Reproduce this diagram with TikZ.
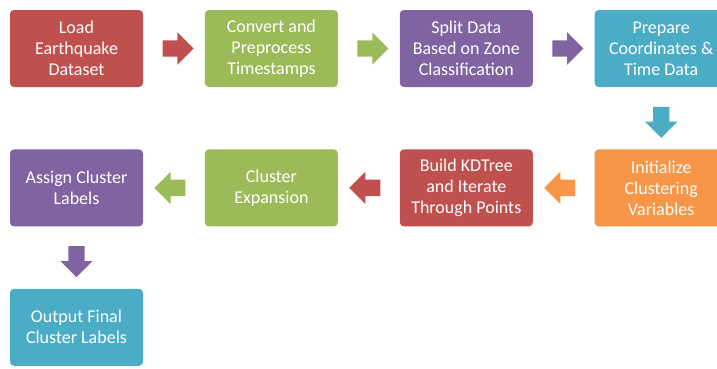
\documentclass[tikz,border=0pt]{standalone}
\usepackage{fontspec}
\setmainfont{Carlito}
\usepackage{tikz}
\usetikzlibrary{positioning,shapes.arrows}
\usepackage{xcolor}
\definecolor{stred}{HTML}{C0504D}
\definecolor{stgreen}{HTML}{9BBB59}
\definecolor{stpurple}{HTML}{8064A2}
\definecolor{stteal}{HTML}{4BACC6}
\definecolor{storange}{HTML}{F79646}

\begin{document}
\begin{tikzpicture}[x=1pt, y=1pt,
  node distance=62pt and 61.5pt,
  stage/.style={rounded corners=4pt, align=center, text=white,
                font=\fontsize{18}{21}\selectfont,
                minimum width=133pt, minimum height=77pt, inner sep=2pt},
  blk/.style={single arrow, single arrow head extend=8pt,
              minimum height=31pt, inner xsep=0pt, inner ysep=8pt}]
  \useasboundingbox (0,0) rectangle (717,-368);
  % first row
  \node[stage, fill=stred] (load) at (76.5,-48.5) {Load\\ Earthquake\\ Dataset};
  \node[stage, fill=stgreen, right=of load] (conv) {Convert and\\ Preprocess\\ Timestamps};
  \node[stage, fill=stpurple, right=of conv] (split) {Split Data\\ Based on Zone\\ Classification};
  \node[stage, fill=stteal, right=of split] (prep) {Prepare\\ Coordinates \&\\ Time Data};
  % second row
  \node[stage, fill=storange, below=of prep] (init) {Initialize\\ Clustering\\ Variables};
  \node[stage, fill=stred, left=of init] (kdt) {Build KDTree\\ and Iterate\\ Through Points};
  \node[stage, fill=stgreen, left=of kdt] (expand) {Cluster\\ Expansion};
  \node[stage, fill=stpurple, left=of expand] (assign) {Assign Cluster\\ Labels};
  % last row
  \node[stage, fill=stteal, below=of assign] (out) {Output Final\\ Cluster Labels};
  % block arrows
  \path (load) -- node[blk, fill=stred] (a1) {} (conv);
  \path (conv) -- node[blk, fill=stgreen] (a2) {} (split);
  \path (split) -- node[blk, fill=stpurple] (a3) {} (prep);
  \path (prep) -- node[blk, fill=stteal, rotate=-90] (a4) {} (init);
  \path (init) -- node[blk, fill=storange, rotate=180] (a5) {} (kdt);
  \path (kdt) -- node[blk, fill=stred, rotate=180] (a6) {} (expand);
  \path (expand) -- node[blk, fill=stgreen, rotate=180] (a7) {} (assign);
  \path (assign) -- node[blk, fill=stpurple, rotate=-90] (a8) {} (out);
\end{tikzpicture}
\end{document}
